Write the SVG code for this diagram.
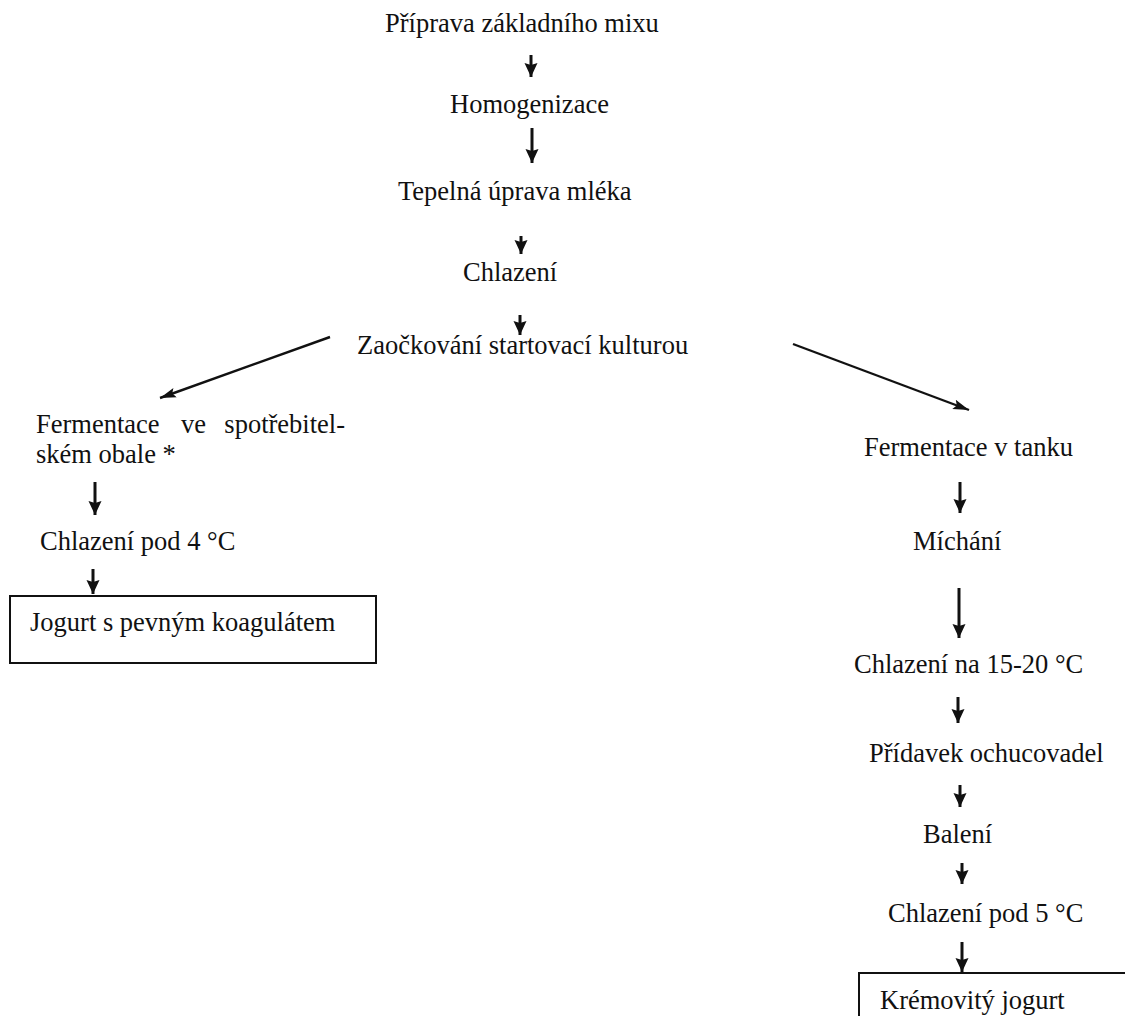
<svg xmlns="http://www.w3.org/2000/svg" width="1125" height="1016" viewBox="0 0 1125 1016">
  <style>
    .lbl { font-family: "Liberation Serif", "Times New Roman", serif; font-size: 26.5px; fill: #111; }
    .conn { stroke: #111; stroke-width: 3; fill: none; }
    .diag { stroke: #111; stroke-width: 2.4; fill: none; }
    .box { fill: none; stroke: #111; stroke-width: 2; }
  </style>
  <defs>
    <!-- bold head for the short vertical steps -->
    <marker id="head" markerUnits="userSpaceOnUse" viewBox="0 0 14 14" refX="14" refY="7" markerWidth="14" markerHeight="14" orient="auto">
      <path d="M0,0.5 L14,7 L0,13.5 L2,7 z" fill="#111"/>
    </marker>
    <!-- slimmer head for the two branch arrows -->
    <marker id="headSlim" markerUnits="userSpaceOnUse" viewBox="0 0 16 12" refX="16" refY="6" markerWidth="16" markerHeight="12" orient="auto">
      <path d="M0,1 L16,6 L0,11 L3,6 z" fill="#111"/>
    </marker>
  </defs>
  <rect x="0" y="0" width="1125" height="1016" fill="#ffffff"/>

  <!-- main trunk -->
  <g id="n-priprava"><text class="lbl" x="385" y="32">Příprava základního mixu</text></g>
  <g id="n-homogenizace"><text class="lbl" x="450" y="113">Homogenizace</text></g>
  <g id="n-tepelna"><text class="lbl" x="398" y="200">Tepelná úprava mléka</text></g>
  <g id="n-chlazeni"><text class="lbl" x="463" y="281">Chlazení</text></g>
  <g id="n-zaockovani"><text class="lbl" x="357" y="354">Zaočkování startovací kulturou</text></g>

  <!-- set yogurt branch -->
  <g id="n-fermentace-obal">
    <text class="lbl" y="433"><tspan x="36">Fermentace</tspan><tspan x="181">ve</tspan><tspan x="345" text-anchor="end">spotřebitel-</tspan></text>
    <text class="lbl" x="36" y="463">ském obale *</text>
  </g>
  <g id="n-chlazeni-4"><text class="lbl" x="40" y="550">Chlazení pod 4 °C</text></g>
  <g id="n-jogurt-pevny">
    <rect class="box" x="10" y="596" width="366" height="67"/>
    <text class="lbl" x="30" y="631">Jogurt s pevným koagulátem</text>
  </g>

  <!-- stirred yogurt branch -->
  <g id="n-fermentace-tank"><text class="lbl" x="864" y="456">Fermentace v tanku</text></g>
  <g id="n-michani"><text class="lbl" x="913" y="550">Míchání</text></g>
  <g id="n-chlazeni-15"><text class="lbl" x="854" y="673">Chlazení na 15-20 °C</text></g>
  <g id="n-pridavek"><text class="lbl" x="869" y="762">Přídavek ochucovadel</text></g>
  <g id="n-baleni"><text class="lbl" x="923" y="843">Balení</text></g>
  <g id="n-chlazeni-5"><text class="lbl" x="888" y="922">Chlazení pod 5 °C</text></g>
  <g id="n-jogurt-kremovity">
    <rect class="box" x="859" y="973" width="280" height="60"/>
    <text class="lbl" x="880" y="1009">Krémovitý jogurt</text>
  </g>

  <g id="connectors">
    <line class="conn" x1="531" y1="55" x2="531" y2="77" marker-end="url(#head)"/>
    <line class="conn" x1="532" y1="128" x2="532" y2="163" marker-end="url(#head)"/>
    <line class="conn" x1="521" y1="236" x2="521" y2="254" marker-end="url(#head)"/>
    <line class="conn" x1="520" y1="315" x2="520" y2="335" marker-end="url(#head)"/>
    <line class="diag" x1="330" y1="337" x2="160" y2="398" marker-end="url(#headSlim)"/>
    <line class="diag" x1="793" y1="344" x2="969" y2="410" marker-end="url(#headSlim)"/>
    <line class="conn" x1="95" y1="482" x2="95" y2="515" marker-end="url(#head)"/>
    <line class="conn" x1="93" y1="569" x2="93" y2="594" marker-end="url(#head)"/>
    <line class="conn" x1="960" y1="482" x2="960" y2="513" marker-end="url(#head)"/>
    <line class="conn" x1="959" y1="588" x2="959" y2="638" marker-end="url(#head)"/>
    <line class="conn" x1="958" y1="697" x2="958" y2="723" marker-end="url(#head)"/>
    <line class="conn" x1="960" y1="785" x2="960" y2="807" marker-end="url(#head)"/>
    <line class="conn" x1="962" y1="863" x2="962" y2="884" marker-end="url(#head)"/>
    <line class="conn" x1="962" y1="942" x2="962" y2="972" marker-end="url(#head)"/>
  </g>
</svg>
